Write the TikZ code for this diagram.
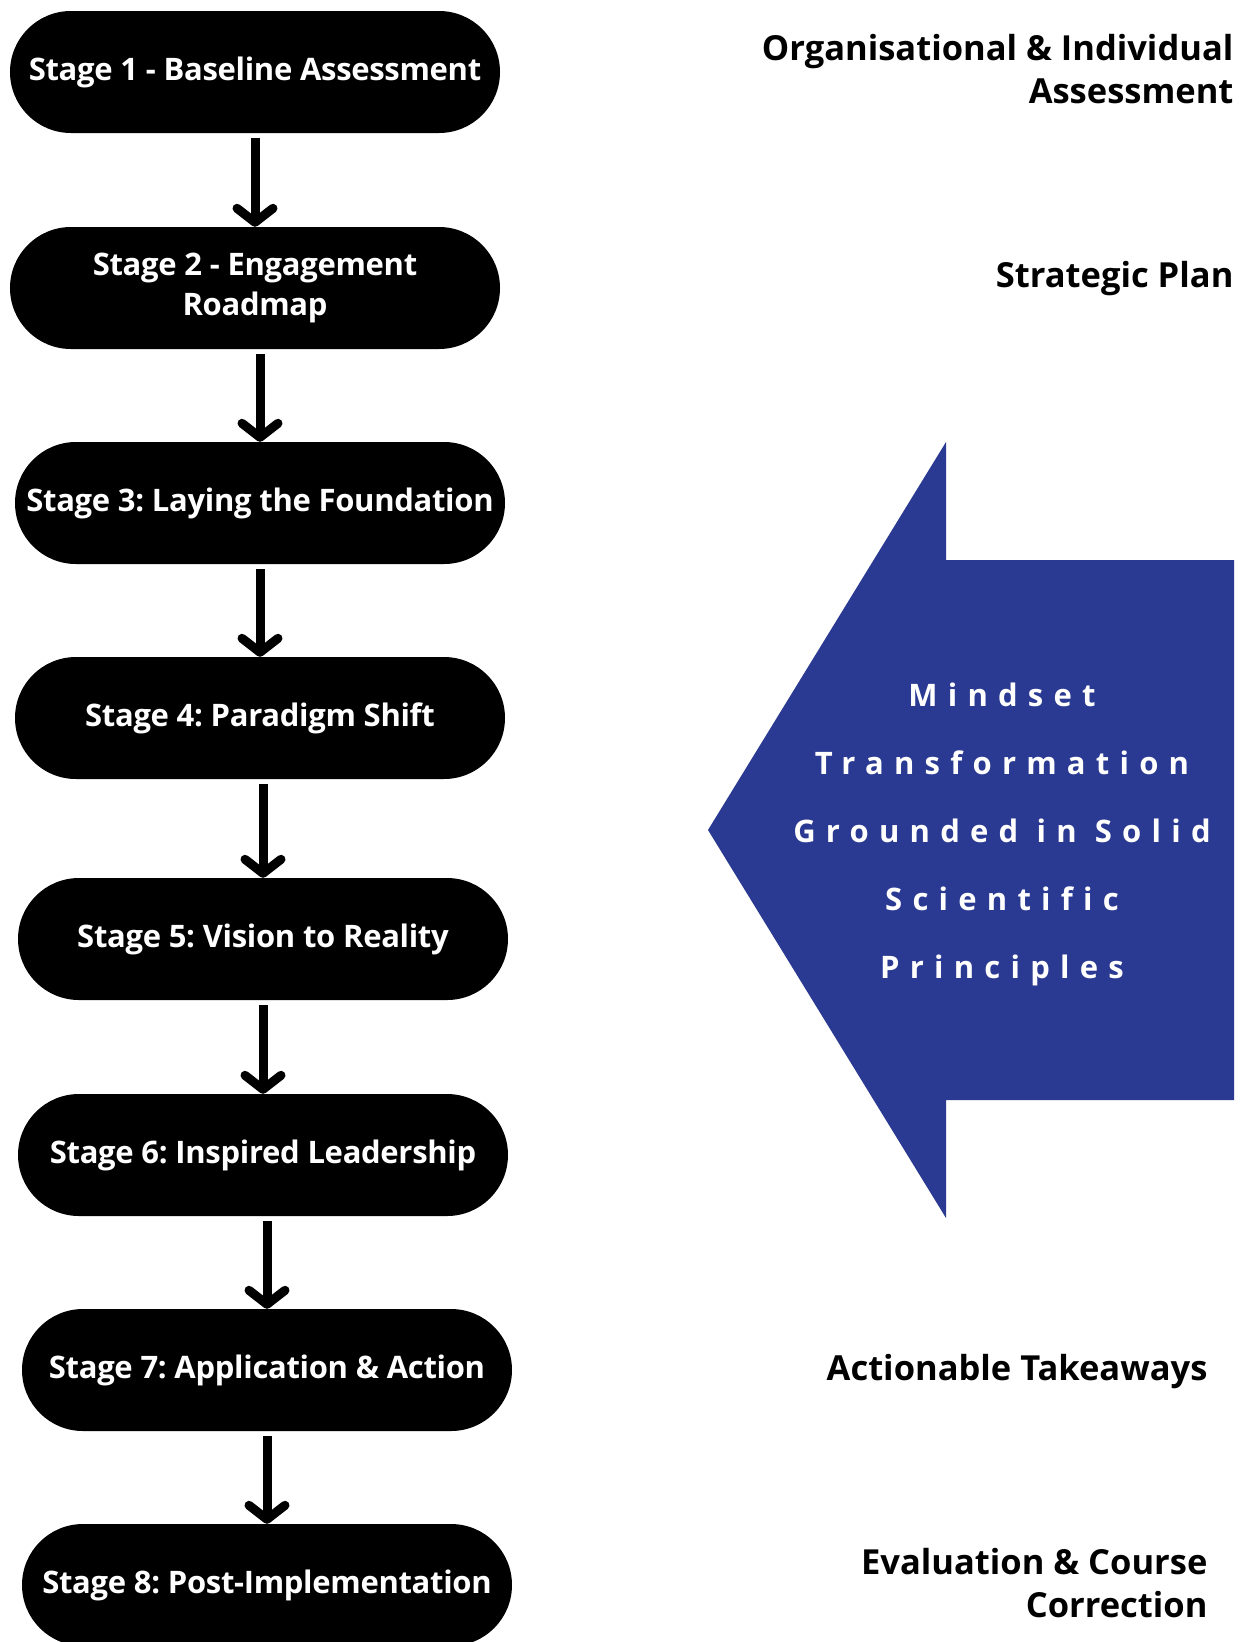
\documentclass[tikz,border=0pt]{standalone}
\usepackage{fontspec}
\setmainfont{Open Sans}
\newfontfamily\stagefont{Open Sans}[LetterSpace=-1]
\newfontfamily\spacedfont{Open Sans}[LetterSpace=33, Ligatures=NoCommon]
\usetikzlibrary{arrows.meta}
\definecolor{mindblue}{RGB}{42,57,145}
\frenchspacing
\tikzset{
	stage/.style={fill=black, text=white, rounded corners=61pt, minimum width=490pt, minimum height=122pt, align=center, font=\stagefont\bfseries\fontsize{31}{40}\selectfont},
	outcome/.style={align=right, font=\bfseries\fontsize{34.5}{43}\selectfont},
	flow/.style={line width=9pt, shorten <=5pt, -{Straight Barb[length=14pt, width=36pt, round]}}
}

\begin{document}
\begin{tikzpicture}[x=1pt, y=-1pt]
	\useasboundingbox (0, 0) rectangle (1244, 1642);

	\node[stage] (s1) at (255, 72)   {Stage 1 - Baseline Assessment};
	\node[stage] (s2) at (255, 288)  {Stage 2 - Engagement\\Roadmap};
	\node[stage] (s3) at (260, 503)  {Stage 3: Laying the Foundation};
	\node[stage] (s4) at (260, 718)  {Stage 4: Paradigm Shift};
	\node[stage] (s5) at (263, 939)  {Stage 5: Vision to Reality};
	\node[stage] (s6) at (263, 1155) {Stage 6: Inspired Leadership};
	\node[stage] (s7) at (267, 1370) {Stage 7: Application \& Action};
	\node[stage] (s8) at (267, 1585) {Stage 8: Post-Implementation};

	\draw[flow] (s2 |- s1.south) -- (s2.north);
	\draw[flow] (s3 |- s2.south) -- (s3.north);
	\draw[flow] (s4 |- s3.south) -- (s4.north);
	\draw[flow] (s5 |- s4.south) -- (s5.north);
	\draw[flow] (s6 |- s5.south) -- (s6.north);
	\draw[flow] (s7 |- s6.south) -- (s7.north);
	\draw[flow] (s8 |- s7.south) -- (s8.north);

	% big arrow pointing back at the stages
	\fill[mindblue] (708, 830) -- (946, 442) -- (946, 560) -- (1234, 560) -- (1234, 1100)
		-- (946, 1100) -- (946, 1218) -- cycle;
	\node[text=white, align=center, font=\spacedfont\bfseries\fontsize{31}{68}\selectfont] (mind) at (1002, 834)
		{Mindset\\Transformation\\Grounded in Solid\\Scientific\\Principles};

	\node[outcome, anchor=east]      (o1) at (1237, 69)   {Organisational \& Individual\\Assessment};
	\node[outcome, anchor=base east] (o2) at (1237, 287)  {Strategic Plan};
	\node[outcome, anchor=base east] (o7) at (1211, 1380) {Actionable Takeaways};
	\node[outcome, anchor=east]      (o8) at (1211, 1583) {Evaluation \& Course\\Correction};
\end{tikzpicture}
\end{document}
